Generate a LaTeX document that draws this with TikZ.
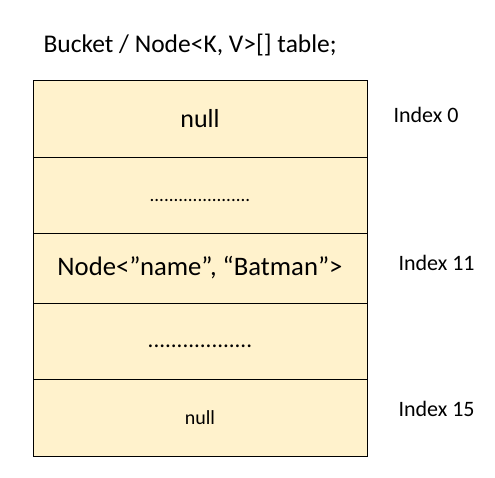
\documentclass[tikz,border=0pt]{standalone}
\usepackage{fontspec}
\setmainfont{Carlito}
\usetikzlibrary{positioning}
\definecolor{bucketFill}{HTML}{FFF2CC}
\tikzset{
  slot/.style = {
    draw,
    fill=bucketFill,
    line width=0.9pt,
    minimum width=334pt,
    inner sep=0pt,
    outer sep=0pt,
    anchor=north,
  },
  dots/.style = {
    text height=12pt,
    text depth=0pt,
  },
  indexLabel/.style = {
    anchor=west,
    font=\fontsize{22}{24}\selectfont,
  },
  node distance=0pt,
}

\begin{document}
\begin{tikzpicture}[x=1pt, y=1pt]
\useasboundingbox (0,0) rectangle (495,-477);

\node(title)[anchor=west, font=\fontsize{25.5}{28}\selectfont]
  at (40,-45) {Bucket / Node<K, V>[] table;};

\node(row0)[slot, minimum height=77pt, font=\fontsize{26}{28}\selectfont]
  at (200,-80) {null};
\node(row1)[slot, dots, minimum height=76pt, below=of row0, font=\fontsize{19}{20}\selectfont]
  {.....................};
\node(row2)[slot, minimum height=70pt, below=of row1, font=\fontsize{26.7}{28}\selectfont]
  {Node<”name”, “Batman”>};
\node(row3)[slot, dots, minimum height=76pt, below=of row2, font=\fontsize{23}{24}\selectfont]
  {..................};
\node(row4)[slot, minimum height=77pt, below=of row3, font=\fontsize{20}{22}\selectfont]
  {null};

% index labels beside the buckets
\node(index0)[indexLabel] at ([xshift=23pt, yshift=4pt]row0.east) {Index 0};
\node(index11)[indexLabel] at ([xshift=28pt, yshift=5pt]row2.east) {Index 11};
\node(index15)[indexLabel] at ([xshift=28pt, yshift=9pt]row4.east) {Index 15};

\end{tikzpicture}
\end{document}
